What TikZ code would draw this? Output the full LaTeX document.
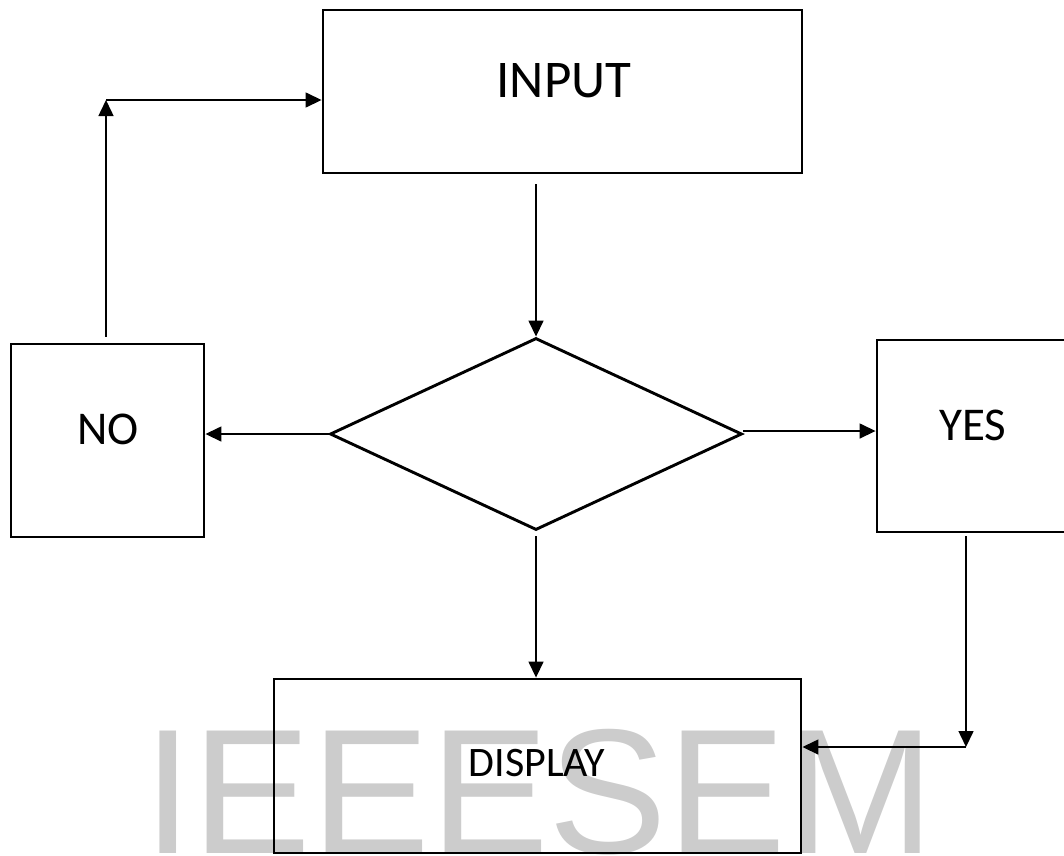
\documentclass[tikz,border=0pt]{standalone}
\usepackage{fontspec}
\setmainfont{Carlito}
\newfontfamily\markfont{Liberation Sans}
\usetikzlibrary{arrows.meta,shapes.geometric}

\tikzset{
  box/.style={draw, line width=2.9pt, rectangle, inner sep=0pt},
  decision/.style={draw, line width=2.9pt, diamond, inner sep=0pt, aspect=2.14},
  lbl/.style={anchor=base, inner sep=0pt},
  arr/.style={line width=1.5pt, -{Triangle[length=16pt,width=15pt]}},
  watermark/.style={anchor=base west, inner sep=0pt, text=black!20,
    font=\markfont\fontsize{178}{178}\selectfont},
}

\begin{document}
\begin{tikzpicture}[x=1pt, y=-1pt]
  \useasboundingbox (0,0) rectangle (1064,855);
  \begin{scope}
    \clip (0,0) rectangle (1064,855);

    % background watermark
    \node[watermark] (mark) at (143,853) {IEEESEM};

    % process boxes and decision
    \node[box, minimum width=479pt, minimum height=163pt] (input) at (562.5,91.5) {};
    \node[decision, minimum width=412pt, minimum height=192pt] (dec) at (536,434) {};
    \node[box, minimum width=193pt, minimum height=193pt] (no) at (107.5,440.5) {};
    \node[box, minimum width=189pt, minimum height=192pt] (yes) at (971.5,436) {};
    \node[box, minimum width=527pt, minimum height=174pt] (display) at (537.5,766) {};

    % labels
    \node[lbl, font=\fontsize{53}{53}\selectfont] (tinput) at (564,97) {INPUT};
    \node[lbl, font=\fontsize{47}{47}\selectfont] (tno) at (108,444) {NO};
    \node[lbl, font=\fontsize{47}{47}\selectfont] (tyes) at (973,440) {YES};
    \node[lbl, font=\fontsize{42}{42}\selectfont] (tdisplay) at (537,776) {DISPLAY};

    % corner points of the routed connectors
    \coordinate (c1) at (106,100);
    \coordinate (c2) at (966,747);

    % connectors
    \draw[arr, shorten <=10pt] (input.south -| dec.north) -- (dec.north);
    \draw[arr] (dec.west) -- (dec.west -| no.east);
    \draw[arr] ([yshift=3pt]dec.east) -- ([yshift=3pt]dec.east -| yes.west);
    \draw[arr, shorten <=5pt] (dec.south) -- (display.north -| dec.south);
    \draw[arr, shorten <=6pt] (c1 |- no.north) -- (c1);
    \draw[arr] (c1) -- (c1 -| input.west);
    \draw[arr, shorten <=3pt] (c2 |- yes.south) -- (c2);
    \draw[arr] (c2) -- (c2 -| display.east);
  \end{scope}
\end{tikzpicture}
\end{document}
